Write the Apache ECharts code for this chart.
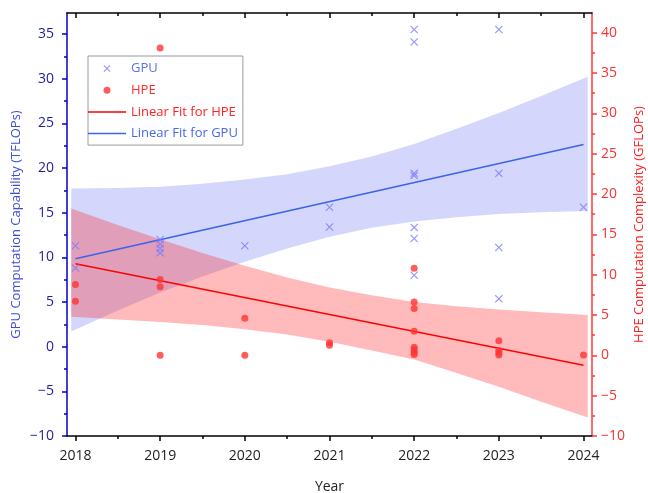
<!DOCTYPE html>
<html><head><meta charset="utf-8">
<script src="https://cdn.jsdelivr.net/npm/echarts@6/dist/echarts.min.js"></script>
<style>html,body{margin:0;padding:0;background:#fff}#c{width:648px;height:493px}</style>
</head><body><div id="c"></div>
<script>
// ---- tick labels ----
const years = [2018, 2019, 2020, 2021, 2022, 2023, 2024];
const xMinorTicks = [2018.5, 2019.5, 2020.5, 2021.5, 2022.5, 2023.5];
const leftTicks = [-10, -5, 0, 5, 10, 15, 20, 25, 30, 35];
const leftMinorTicks = [-7.5, -2.5, 2.5, 7.5, 12.5, 17.5, 22.5, 27.5, 32.5];
const rightTicks = [-10, -5, 0, 5, 10, 15, 20, 25, 30, 35, 40];
const rightMinorTicks = [-7.5, -2.5, 2.5, 7.5, 12.5, 17.5, 22.5, 27.5, 32.5, 37.5];

// ---- GPU scatter (TFLOPs, left axis) ----
const gpuYear  = [2018, 2018, 2019, 2019, 2019, 2019, 2020, 2021, 2021, 2022, 2022, 2022, 2022, 2022, 2022, 2022, 2023, 2023, 2023, 2023, 2024];
const gpuValue = [11.3, 8.8, 12.0, 11.5, 11.0, 10.5, 11.3, 15.6, 13.4, 35.5, 34.1, 19.4, 19.15, 13.35, 12.1, 8.0, 35.5, 19.4, 11.1, 5.35, 15.6];

// ---- HPE scatter (GFLOPs, right axis) ----
const hpeYear  = [2018, 2018, 2019, 2019, 2019, 2019, 2020, 2020, 2021, 2021, 2022, 2022, 2022, 2022, 2022, 2022, 2022, 2022, 2023, 2023, 2023, 2023, 2024];
const hpeValue = [8.8, 6.7, 38.1, 9.4, 8.5, 0.0, 4.6, 0.0, 1.55, 1.25, 10.8, 6.6, 5.8, 3.0, 1.0, 0.7, 0.4, 0.1, 1.8, 0.6, 0.3, 0.05, 0.05];

// ---- linear fits ----
const gpuFitYear = [2018, 2024];
const gpuFitValue = [9.85, 22.62];
const hpeFitYear = [2018, 2024];
const hpeFitValue = [11.37, -1.24];

// ---- confidence bands ----
const bandYear     = [2017.95, 2018.5, 2019, 2019.5, 2020, 2020.5, 2021, 2021.5, 2022, 2022.5, 2023, 2023.5, 2024.05];
const gpuBandUpper = [17.7, 17.75, 17.9, 18.25, 18.7, 19.3, 20.2, 21.3, 22.7, 24.4, 26.15, 28.05, 30.2];
const gpuBandLower = [1.7, 4.05, 6.05, 7.85, 9.5, 11.0, 12.3, 13.3, 14.0, 14.5, 14.85, 15.05, 15.2];
const hpeBandUpper = [18.2, 16.15, 14.4, 12.7, 11.1, 9.65, 8.4, 7.45, 6.6, 6.1, 5.7, 5.35, 5.0];
const hpeBandLower = [4.8, 4.45, 4.15, 3.75, 3.25, 2.6, 1.7, 0.6, -0.5, -2.2, -3.9, -5.75, -7.7];

const FONT = '"Open Sans", "Noto Sans", sans-serif';
const XPATH = 'path://M0,1L1,0L5,4L9,0L10,1L6,5L10,9L9,10L5,6L1,10L0,9L4,5Z';
const LINEPATH = 'path://M0,0H40V1.6H0Z';
const minusFmt = v => String(v).replace('-', '\u2212');

function bandSeries(name, yAxisIndex, upper, lower, color, z) {
  return {
    type: 'custom', name: name, xAxisIndex: 0, yAxisIndex: yAxisIndex, z: z, silent: true,
    data: bandYear.map((x, i) => [x, lower[i], upper[i]]),
    encode: { x: 0, y: [1, 2] },
    renderItem: function (params, api) {
      if (params.dataIndex !== 0) return null;
      const pts = [];
      for (let i = 0; i < bandYear.length; i++) pts.push(api.coord([bandYear[i], upper[i]]));
      for (let i = bandYear.length - 1; i >= 0; i--) pts.push(api.coord([bandYear[i], lower[i]]));
      return { type: 'polygon', shape: { points: pts }, style: { fill: color } };
    }
  };
}

const gridBox = { left: 67, right: 56, top: 13, bottom: 57, outerBoundsMode: 'none', containLabel: false };
const xBase = { type: 'value', min: 2017.9, max: 2024.1, splitLine: { show: false } };

const chart = echarts.init(document.getElementById('c'), null, { renderer: 'canvas' });
chart.setOption({
  animation: false,
  backgroundColor: '#fff',
  grid: [Object.assign({}, gridBox), Object.assign({}, gridBox)],
  legend: {
    orient: 'vertical', left: 88, top: 56,
    itemWidth: 38, itemHeight: 7, itemGap: 8.7,
    padding: [6, 5, 5, 0],
    borderColor: '#9a9a9a', borderWidth: 1, backgroundColor: '#fff',
    textStyle: { fontFamily: FONT, fontSize: 13 },
    data: [
      { name: 'GPU', icon: XPATH, textStyle: { color: '#5a6ff0' } },
      { name: 'HPE', icon: 'circle', textStyle: { color: '#ff2a2a' } },
      { name: 'Linear Fit for HPE', icon: LINEPATH, textStyle: { color: '#ff2020' } },
      { name: 'Linear Fit for GPU', icon: LINEPATH, textStyle: { color: '#4a66e8' } }
    ]
  },
  xAxis: [
    Object.assign({}, xBase, {
      gridIndex: 0, position: 'bottom',
      axisLine: { show: true, onZero: false, lineStyle: { color: '#000', width: 1.5 } },
      axisTick: { show: true, customValues: years, length: 5, lineStyle: { color: '#000', width: 1.5 } },
      axisLabel: { customValues: years, formatter: v => String(v), fontFamily: FONT, fontSize: 14, color: '#222', margin: 13 },
      name: 'Year', nameLocation: 'middle', nameGap: 44, nameMoveOverlap: false,
      nameTextStyle: { fontFamily: FONT, fontSize: 14, color: '#222' }
    }),
    Object.assign({}, xBase, {
      gridIndex: 0, position: 'top',
      axisLine: { show: true, onZero: false, lineStyle: { color: '#000', width: 1.5 } },
      axisTick: { show: true, inside: true, customValues: years, length: 5, lineStyle: { color: '#000', width: 1.5 } },
      axisLabel: { show: false }
    }),
    Object.assign({}, xBase, {
      gridIndex: 1, position: 'bottom',
      axisLine: { show: false, onZero: false },
      axisTick: { show: true, customValues: xMinorTicks, length: 3, lineStyle: { color: '#000', width: 1.5 } },
      axisLabel: { show: false }
    }),
    Object.assign({}, xBase, {
      gridIndex: 1, position: 'top',
      axisLine: { show: false, onZero: false },
      axisTick: { show: true, inside: true, customValues: xMinorTicks, length: 3, lineStyle: { color: '#000', width: 1.5 } },
      axisLabel: { show: false }
    })
  ],
  yAxis: [
    {
      gridIndex: 0, type: 'value', position: 'left', min: -10, max: 37.35, splitLine: { show: false },
      axisLine: { show: true, onZero: false, lineStyle: { color: '#0000cc', width: 1.5 } },
      axisTick: { show: true, customValues: leftTicks, length: 5, lineStyle: { color: '#0000cc', width: 1.5 } },
      axisLabel: { customValues: leftTicks, formatter: minusFmt, fontFamily: FONT, fontSize: 14, color: '#1e1e9a', margin: 13 },
      name: 'GPU Computation Capability (TFLOPs)', nameLocation: 'middle', nameGap: 44, nameMoveOverlap: false,
      nameTextStyle: { fontFamily: FONT, fontSize: 13, color: '#3b4fd8' }
    },
    {
      gridIndex: 0, type: 'value', position: 'right', min: -10, max: 42.45, splitLine: { show: false },
      axisLine: { show: true, onZero: false, lineStyle: { color: '#ff3838', width: 1.5 } },
      axisTick: { show: true, customValues: rightTicks, length: 5, lineStyle: { color: '#ff3838', width: 1.5 } },
      axisLabel: { customValues: rightTicks, formatter: minusFmt, fontFamily: FONT, fontSize: 14, color: '#ff3030', margin: 9 },
      name: 'HPE Computation Complexity (GFLOPs)', nameLocation: 'middle', nameGap: 41, nameMoveOverlap: false,
      nameTextStyle: { fontFamily: FONT, fontSize: 13, color: '#ff2020' }
    },
    {
      gridIndex: 1, type: 'value', position: 'left', min: -10, max: 37.35, splitLine: { show: false },
      axisLine: { show: false, onZero: false },
      axisTick: { show: true, customValues: leftMinorTicks, length: 3, lineStyle: { color: '#0000cc', width: 1.5 } },
      axisLabel: { show: false }
    },
    {
      gridIndex: 1, type: 'value', position: 'right', min: -10, max: 42.45, splitLine: { show: false },
      axisLine: { show: false, onZero: false },
      axisTick: { show: true, customValues: rightMinorTicks, length: 3, lineStyle: { color: '#ff3838', width: 1.5 } },
      axisLabel: { show: false }
    }
  ],
  series: [
    bandSeries('GPU band', 0, gpuBandUpper, gpuBandLower, 'rgba(90,100,240,0.26)', 1),
    bandSeries('HPE band', 1, hpeBandUpper, hpeBandLower, 'rgba(255,20,20,0.29)', 1),
    {
      type: 'line', name: 'Linear Fit for HPE', xAxisIndex: 0, yAxisIndex: 1, z: 3,
      symbol: 'none', lineStyle: { color: '#ff0000', width: 1.5 }, itemStyle: { color: '#ff0000' },
      data: hpeFitYear.map((x, i) => [x, hpeFitValue[i]])
    },
    {
      type: 'line', name: 'Linear Fit for GPU', xAxisIndex: 0, yAxisIndex: 0, z: 3,
      symbol: 'none', lineStyle: { color: '#3d63ea', width: 1.5 }, itemStyle: { color: '#3d63ea' },
      data: gpuFitYear.map((x, i) => [x, gpuFitValue[i]])
    },
    {
      type: 'scatter', name: 'GPU', xAxisIndex: 0, yAxisIndex: 0, z: 4,
      symbol: XPATH, symbolSize: 8, itemStyle: { color: '#7b7bff' },
      data: gpuYear.map((x, i) => [x, gpuValue[i]])
    },
    {
      type: 'scatter', name: 'HPE', xAxisIndex: 0, yAxisIndex: 1, z: 4,
      symbol: 'circle', symbolSize: 7, itemStyle: { color: '#ff3333' },
      data: hpeYear.map((x, i) => [x, hpeValue[i]])
    }
  ]
});
</script>
</body></html>
